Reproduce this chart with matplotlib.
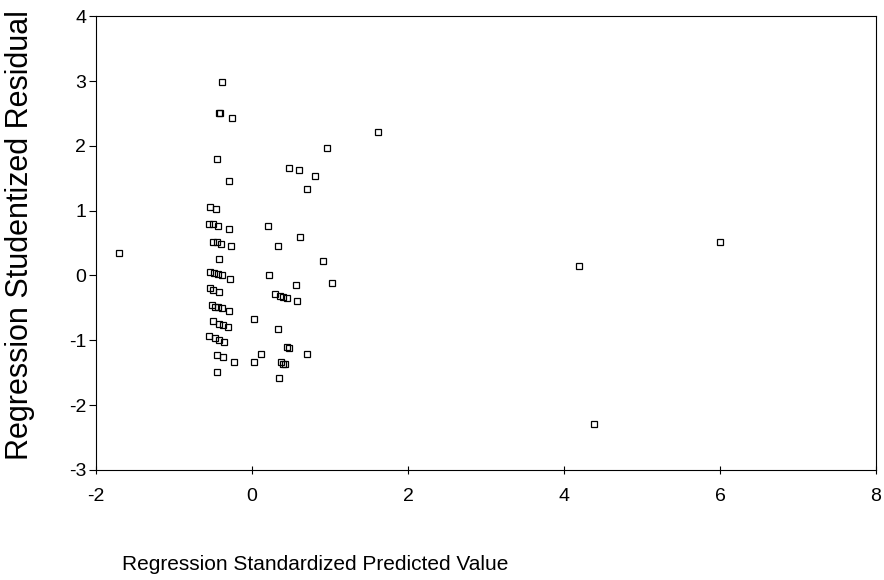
import matplotlib.pyplot as plt

plt.rcParams['font.family'] = ['Liberation Sans', 'DejaVu Sans']

# standardized predicted value (x) and studentized residual (y)
pred = [-1.71, -0.385, -0.423, -0.41, -0.256, -0.449, -0.295, -0.538, -0.462,
        -0.551, -0.50, -0.436, -0.295, 0.205, 0.615, -0.50, -0.449, -0.397,
        -0.269, 0.333, 0.91, -0.423, -0.538, -0.487, -0.436, -0.385, -0.282,
        0.218, 0.564, 1.026, -0.538, -0.50, -0.423, 0.295, 0.359, 0.397,
        0.449, 0.577, -0.513, -0.474, -0.436, -0.385, -0.295, 0.026, 0.333,
        -0.50, -0.423, -0.372, -0.308, -0.551, -0.474, -0.423, -0.359, 0.449,
        0.474, 0.705, -0.449, -0.372, -0.231, 0.026, 0.115, 0.372, 0.397,
        0.423, -0.449, 0.346, 0.962, 0.474, 0.603, 0.808, 0.705, 1.615,
        6.0, 4.19, 4.385]
resid = [0.34, 2.99, 2.51, 2.50, 2.43, 1.79, 1.45, 1.06, 1.03,
         0.80, 0.79, 0.77, 0.72, 0.755, 0.60, 0.52, 0.51, 0.49,
         0.45, 0.46, 0.22, 0.25, 0.05, 0.03, 0.015, 0.0, -0.05,
         0.0, -0.15, -0.12, -0.20, -0.22, -0.25, -0.29, -0.32, -0.34,
         -0.35, -0.40, -0.46, -0.48, -0.49, -0.51, -0.555, -0.68, -0.82,
         -0.71, -0.755, -0.77, -0.80, -0.94, -0.97, -0.99, -1.02, -1.11,
         -1.12, -1.22, -1.23, -1.26, -1.33, -1.33, -1.22, -1.34, -1.36,
         -1.36, -1.49, -1.59, 1.97, 1.66, 1.63, 1.53, 1.33, 2.22,
         0.51, 0.14, -2.30]

xticks = [-2, 0, 2, 4, 6, 8]
yticks = [-3, -2, -1, 0, 1, 2, 3, 4]

fig = plt.figure(figsize=(8.84, 5.8), dpi=100)
ax = fig.add_axes([0.1086, 0.19, 0.8824, 0.782])

ax.plot(pred, resid, linestyle='none', marker='s', markersize=5,
        markerfacecolor='none', markeredgecolor='black', markeredgewidth=0.9)

ax.set_xlim(-2, 8)
ax.set_ylim(-3, 4)
ax.set_xticks(xticks)
ax.set_yticks(yticks)
ax.set_xticklabels([str(t) for t in xticks])
ax.set_yticklabels([str(t) for t in yticks])
ax.tick_params(axis='both', labelsize=14, colors='black', width=0.8)
ax.tick_params(axis='y', direction='out', length=5, pad=2)
ax.tick_params(axis='x', direction='inout', length=6, pad=10)
for s in ax.spines.values():
    s.set_linewidth(0.8)
    s.set_color('black')

ax.set_ylabel('Regression Studentized Residual', fontsize=22)
ax.yaxis.set_label_coords(-0.078, 0.518)
fig.text(122 / 884, 1 - 565 / 580, 'Regression Standardized Predicted Value',
         fontsize=15, ha='left', va='center')

fig.savefig('out.png', dpi=100)
